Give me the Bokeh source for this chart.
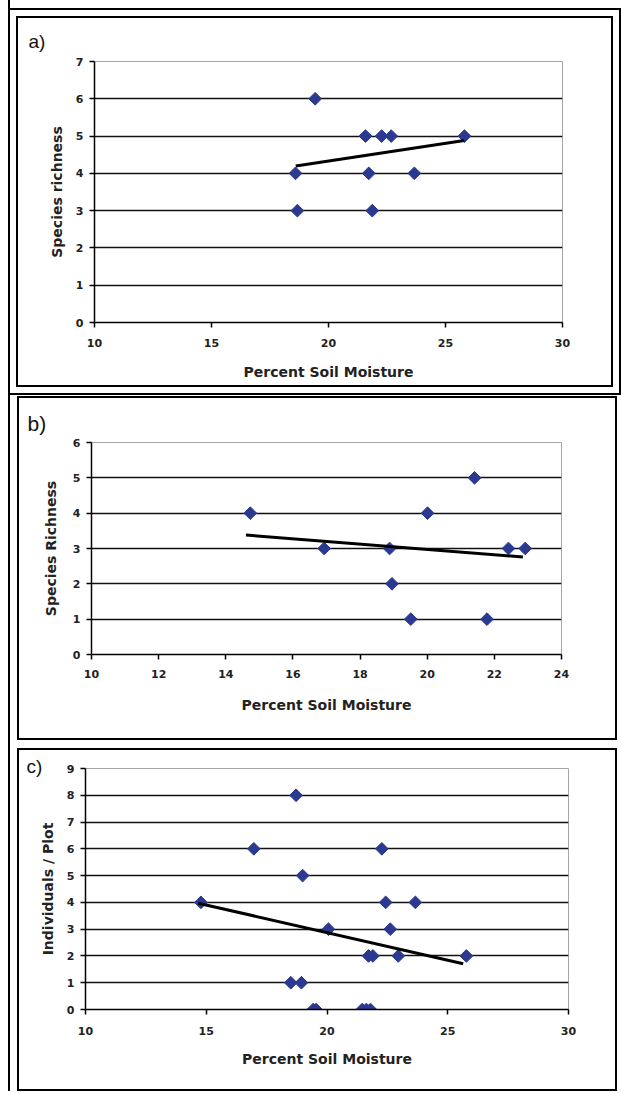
import math
from bokeh.plotting import figure
from bokeh.models import Range1d, FixedTicker, Spacer
from bokeh.layouts import column, row
from bokeh.embed import file_html
from bokeh.resources import INLINE

# ---------------- data ----------------
# a) species richness vs percent soil moisture
a_moist = [19.43, 21.58, 22.27, 22.68, 25.81, 18.59, 21.72, 23.67, 18.67, 21.87]
a_rich = [6, 5, 5, 5, 5, 4, 4, 4, 3, 3]
a_trend_x = [18.6, 25.8]
a_trend_y = [4.2, 4.88]
a_xticks = [10, 15, 20, 25, 30]
a_yticks = [0, 1, 2, 3, 4, 5, 6, 7]

# b) species richness vs percent soil moisture
b_moist = [14.73, 16.93, 18.88, 18.95, 19.51, 20.01, 21.41, 21.78, 22.42, 22.92]
b_rich = [4, 3, 3, 2, 1, 4, 5, 1, 3, 3]
b_trend_x = [14.6, 22.85]
b_trend_y = [3.38, 2.76]
b_xticks = [10, 12, 14, 16, 18, 20, 22, 24]
b_yticks = [0, 1, 2, 3, 4, 5, 6]

# c) individuals / plot vs percent soil moisture
c_moist = [14.78, 16.97, 18.50, 18.72, 18.94, 18.99, 19.43, 19.55, 20.06,
           21.46, 21.63, 21.80, 21.72, 21.90, 22.27, 22.43, 22.62, 22.95, 23.66, 25.77]
c_ind = [4, 6, 1, 8, 1, 5, 0, 0, 3,
         0, 0, 0, 2, 2, 6, 4, 3, 2, 4, 2]
c_trend_x = [14.67, 25.64]
c_trend_y = [3.97, 1.71]
c_xticks = [10, 15, 20, 25, 30]
c_yticks = [0, 1, 2, 3, 4, 5, 6, 7, 8, 9]

NAVY = "#2B3990"
FONT = "DejaVu Sans"


def make_panel(xs, ys, tx, ty, xticks, yticks, ylabel, tag, geom):
    (fw, fh, bl, bt, br, bb, xstand, xlstand, ylstand,
     tag_off, tag_standoff, tag_size) = geom
    p = figure(frame_width=fw, frame_height=fh,
               x_range=Range1d(xticks[0], xticks[-1]),
               y_range=Range1d(yticks[0], yticks[-1]),
               min_border_left=bl, min_border_top=bt,
               min_border_right=br, min_border_bottom=bb,
               output_backend="svg", toolbar_location=None,
               background_fill_color="white", border_fill_color="white")
    p.title.text = tag
    p.title.align = "left"
    p.title.offset = tag_off
    p.title.standoff = tag_standoff
    p.title.text_font = "Liberation Sans"
    p.title.text_font_style = "normal"
    p.title.text_font_size = tag_size
    p.title.text_color = "#111111"

    p.outline_line_color = "#a6a6a6"
    p.outline_line_width = 1
    p.xgrid.visible = False
    p.ygrid.ticker = FixedTicker(ticks=yticks[1:-1])
    p.ygrid.grid_line_color = "#111111"
    p.ygrid.grid_line_width = 1.6

    p.xaxis.ticker = FixedTicker(ticks=xticks)
    p.yaxis.ticker = FixedTicker(ticks=yticks)
    p.xaxis.axis_label = "Percent Soil Moisture"
    p.yaxis.axis_label = ylabel
    for ax in (p.xaxis[0], p.yaxis[0]):
        ax.axis_line_color = "black"
        ax.axis_line_width = 1.5
        ax.major_tick_line_color = "black"
        ax.major_tick_line_width = 1.5
        ax.major_tick_in = 0
        ax.major_tick_out = 5
        ax.minor_tick_line_color = None
        ax.major_label_text_font = FONT
        ax.major_label_text_font_size = "11px"
        ax.major_label_text_font_style = "bold"
        ax.major_label_text_color = "#222222"
        ax.axis_label_text_font = FONT
        ax.axis_label_text_font_size = "14px"
        ax.axis_label_text_font_style = "bold"
        ax.axis_label_text_color = "#222222"
    p.xaxis.major_label_standoff = xstand
    p.xaxis.axis_label_standoff = xlstand
    p.yaxis.major_label_standoff = 6
    p.yaxis.axis_label_standoff = ylstand

    p.scatter(xs, ys, marker="square", size=9, angle=math.pi / 4,
              fill_color=NAVY, line_color=NAVY, line_width=1)
    p.line(tx, ty, line_color="black", line_width=3)
    return p


pa = make_panel(a_moist, a_rich, a_trend_x, a_trend_y, a_xticks, a_yticks,
                "Species richness", "a)",
                (464, 257, 76, 43, 53, 67, 11, 14, 8, -66, 20, "19px"))
pb = make_panel(b_moist, b_rich, b_trend_x, b_trend_y, b_xticks, b_yticks,
                "Species Richness", "b)",
                (466, 208, 72, 44, 58, 88, 10, 16, 11, -64, 15, "21px"))
pc = make_panel(c_moist, c_ind, c_trend_x, c_trend_y, c_xticks, c_yticks,
                "Individuals / Plot", "c)",
                (479, 237, 66, 18, 51, 84, 12, 13, 8, -59, -16, "19px"))

pa.styles = {"border": "2px solid black", "outline": "2px solid black",
             "outline-offset": "6px"}
pb.styles = {"border": "2px solid black"}
pc.styles = {"border": "2px solid black"}

inner = column(
    Spacer(height=16),
    row(Spacer(width=6), pa),
    Spacer(height=9),
    row(Spacer(width=7), pb),
    Spacer(height=8),
    row(Spacer(width=7), pc),
)
inner.styles = {"border-left": "2px solid black"}
root = row(Spacer(width=8), inner)

open("out.html", "w").write(file_html(root, INLINE))
